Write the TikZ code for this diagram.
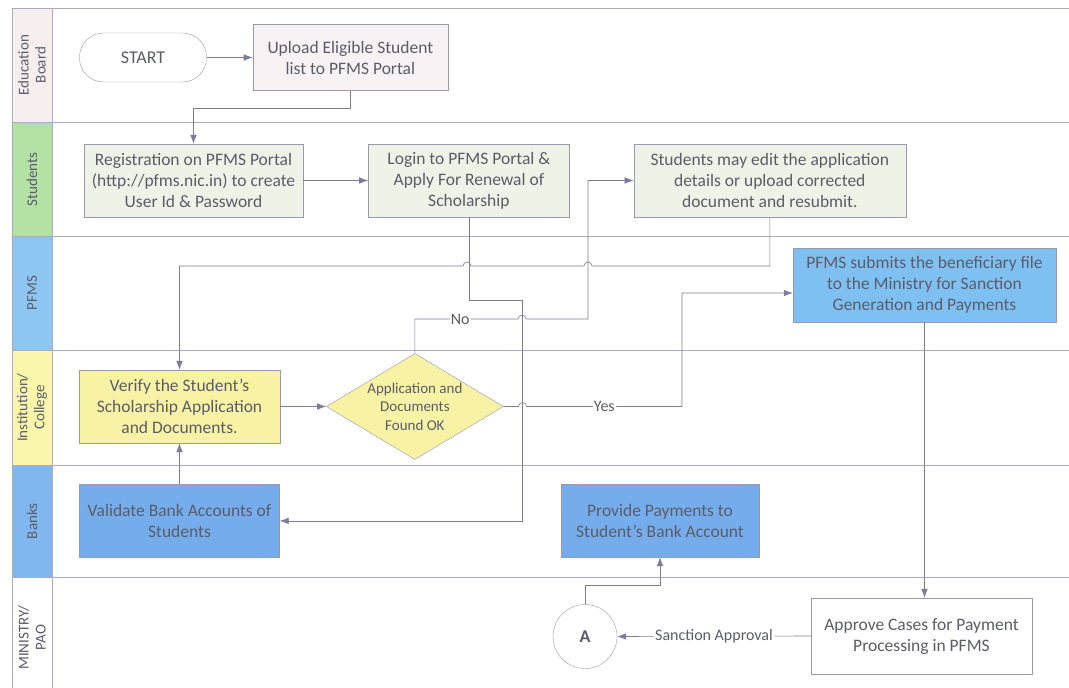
\documentclass[tikz,border=0pt]{standalone}
\usepackage{fontspec}
\setmainfont{Carlito}
\usepackage{tikz}
\usetikzlibrary{arrows.meta}
\usetikzlibrary{calc}
\usetikzlibrary{positioning}
\usetikzlibrary{shapes.geometric}

\definecolor{lanegrey}{HTML}{ABAAC2}
\definecolor{boxline}{HTML}{9A98AC}
\definecolor{flowline}{HTML}{7D7B96}
\definecolor{txtgrey}{HTML}{5C5C68}
\definecolor{edustrip}{HTML}{F7EEF0}
\definecolor{edufill}{HTML}{F8F2F4}
\definecolor{stustrip}{HTML}{B4E2A4}
\definecolor{stufill}{HTML}{EEF3E8}
\definecolor{pfmsstrip}{HTML}{8DC5F3}
\definecolor{pfmsfill}{HTML}{7FC0F3}
\definecolor{inststrip}{HTML}{FBF7AA}
\definecolor{instfill}{HTML}{F8F3A4}
\definecolor{bankstrip}{HTML}{80B7EF}
\definecolor{bankfill}{HTML}{75ADEC}

\begin{document}
\begin{tikzpicture}
[
	x = 1pt, y = -1pt,
	lane/.style = {rotate = 90, draw = lanegrey, minimum height = 40pt, inner sep = 0pt, align = center, text = txtgrey, font = \fontsize{15}{17}\selectfont},
	task/.style = {rectangle, draw = boxline, align = center, minimum height = 73pt, inner sep = 2pt, text = txtgrey, font = \fontsize{17.5}{21}\selectfont},
	decide/.style = {diamond, draw = boxline, fill = instfill, aspect = 1.67, align = center, minimum width = 177pt, minimum height = 106pt, inner sep = 0pt, text = txtgrey, font = \fontsize{15}{18.5}\selectfont},
	flow/.style = {draw = flowline, semithick, -{Latex[length = 9pt, width = 6.5pt]}},
	lbl/.style = {fill = white, inner sep = 1pt, text = txtgrey, font = \fontsize{16}{18}\selectfont},
	sep/.style = {draw = lanegrey, thin},
]

	\useasboundingbox [fill = white] (0, 0) rectangle (1069, 688);

	% lanes
	\node (eduLane) [lane, fill = edustrip, minimum width = 114pt] at (32, 65) {Education\\Board};
	\node (stuLane) [lane, fill = stustrip, minimum width = 114.5pt] at (32, 179.25) {Students};
	\node (pfmsLane) [lane, fill = pfmsstrip, minimum width = 113.5pt] at (32, 293.25) {PFMS};
	\node (instLane) [lane, fill = inststrip, minimum width = 115pt] at (32, 407.5) {Institution/\\College};
	\node (bankLane) [lane, fill = bankstrip, minimum width = 112.5pt] at (32, 521.25) {Banks};
	\node (minLane) [lane, fill = white, minimum width = 120pt] at (32, 637.5) {MINISTRY/\\PAO};
	%
	\draw [sep] (52, 8) -- (1069, 8);
	\draw [sep] (52, 122) -- (1069, 122);
	\draw [sep] (52, 236.5) -- (1069, 236.5);
	\draw [sep] (52, 350) -- (1069, 350);
	\draw [sep] (52, 465) -- (1069, 465);
	\draw [sep] (52, 577.5) -- (1069, 577.5);

	% education board
	\node (start) [task, fill = white, rounded corners = 24pt, minimum width = 127pt, minimum height = 49pt, font = \fontsize{18}{21}\selectfont] at (143, 57.5) {START};
	\node (upload) [task, fill = edufill, minimum width = 195pt, minimum height = 66pt, right = 46pt of start] {Upload Eligible Student\\list to PFMS Portal};

	% students
	\node (reg) [task, fill = stufill, minimum width = 219pt] at (193.5, 180.5) {Registration on PFMS Portal\\(http://pfms.nic.in) to create\\User Id \& Password};
	\node (login) [task, fill = stufill, minimum width = 201pt, right = 65pt of reg] {Login to PFMS Portal \&\\Apply For Renewal of\\Scholarship};
	\node (edit) [task, fill = stufill, minimum width = 272pt, right = 64pt of login] {Students may edit the application\\details or upload corrected\\document and resubmit.};

	% pfms
	\node (pfms) [task, fill = pfmsfill, minimum width = 263pt, minimum height = 74pt] at (924.5, 285) {PFMS submits the beneficiary file\\to the Ministry for Sanction\\Generation and Payments};

	% institution
	\node (verify) [task, fill = instfill, minimum width = 201pt] at (179.5, 406.5) {Verify the Student's\\Scholarship Application\\and Documents.};
	\node (check) [decide, right = 46pt of verify] {Application and\\Documents\\Found OK};

	% banks
	\node (validate) [task, fill = bankfill, minimum width = 200pt, below = 41pt of verify] {Validate Bank Accounts of\\Students};
	\node (provide) [task, fill = bankfill, minimum width = 198pt] at (660, 520.5) {Provide Payments to\\Student's Bank Account};

	% ministry
	\node (approve) [task, fill = white, minimum width = 221pt, minimum height = 76pt] at (921.5, 636) {Approve Cases for Payment\\Processing in PFMS};
	\node (A) [circle, draw = boxline, fill = white, minimum size = 64pt, inner sep = 0pt, text = txtgrey, font = \fontsize{18}{21}\selectfont\bfseries] at (585, 636.5) {A};

	% paths
	\draw [flow] (start) -- (upload);
	\draw [flow] (upload.south) |- ([yshift = 36pt]reg.north) -- (reg.north);
	\draw [flow] (reg) -- (login);
	\draw [flow] (login.south) |- (522, 300) |- (validate.east);
	\draw [flow] (edit.south) |- (592, 266) arc [start angle = 0, end angle = 180, radius = 4pt] -- (471, 266) arc [start angle = 0, end angle = 180, radius = 4pt] -| (verify.north);
	%
	\draw [flow] (verify) -- (check);
	\draw [flow] (check.north) |- (518, 319) node [lbl, pos = 0.72] {No} arc [start angle = 180, end angle = 0, radius = 4pt] -- (588, 319) |- (edit.west);
	\draw [flow] (check.east) -- ++(15, 0) arc [start angle = 180, end angle = 0, radius = 4pt] -- node [lbl] {Yes} (682, 406.5) |- ([yshift = -8pt]pfms.west);
	\draw [flow] (validate.north) -- (validate.north |- verify.south);
	%
	\draw [flow] (pfms.south) -- (pfms.south |- approve.north);
	\draw [flow] (approve.west) -- node [lbl] {Sanction Approval} (A.east);
	\draw [flow] (A.north) |- ([yshift = -28pt]provide.south) -- (provide.south);

\end{tikzpicture}
\end{document}
